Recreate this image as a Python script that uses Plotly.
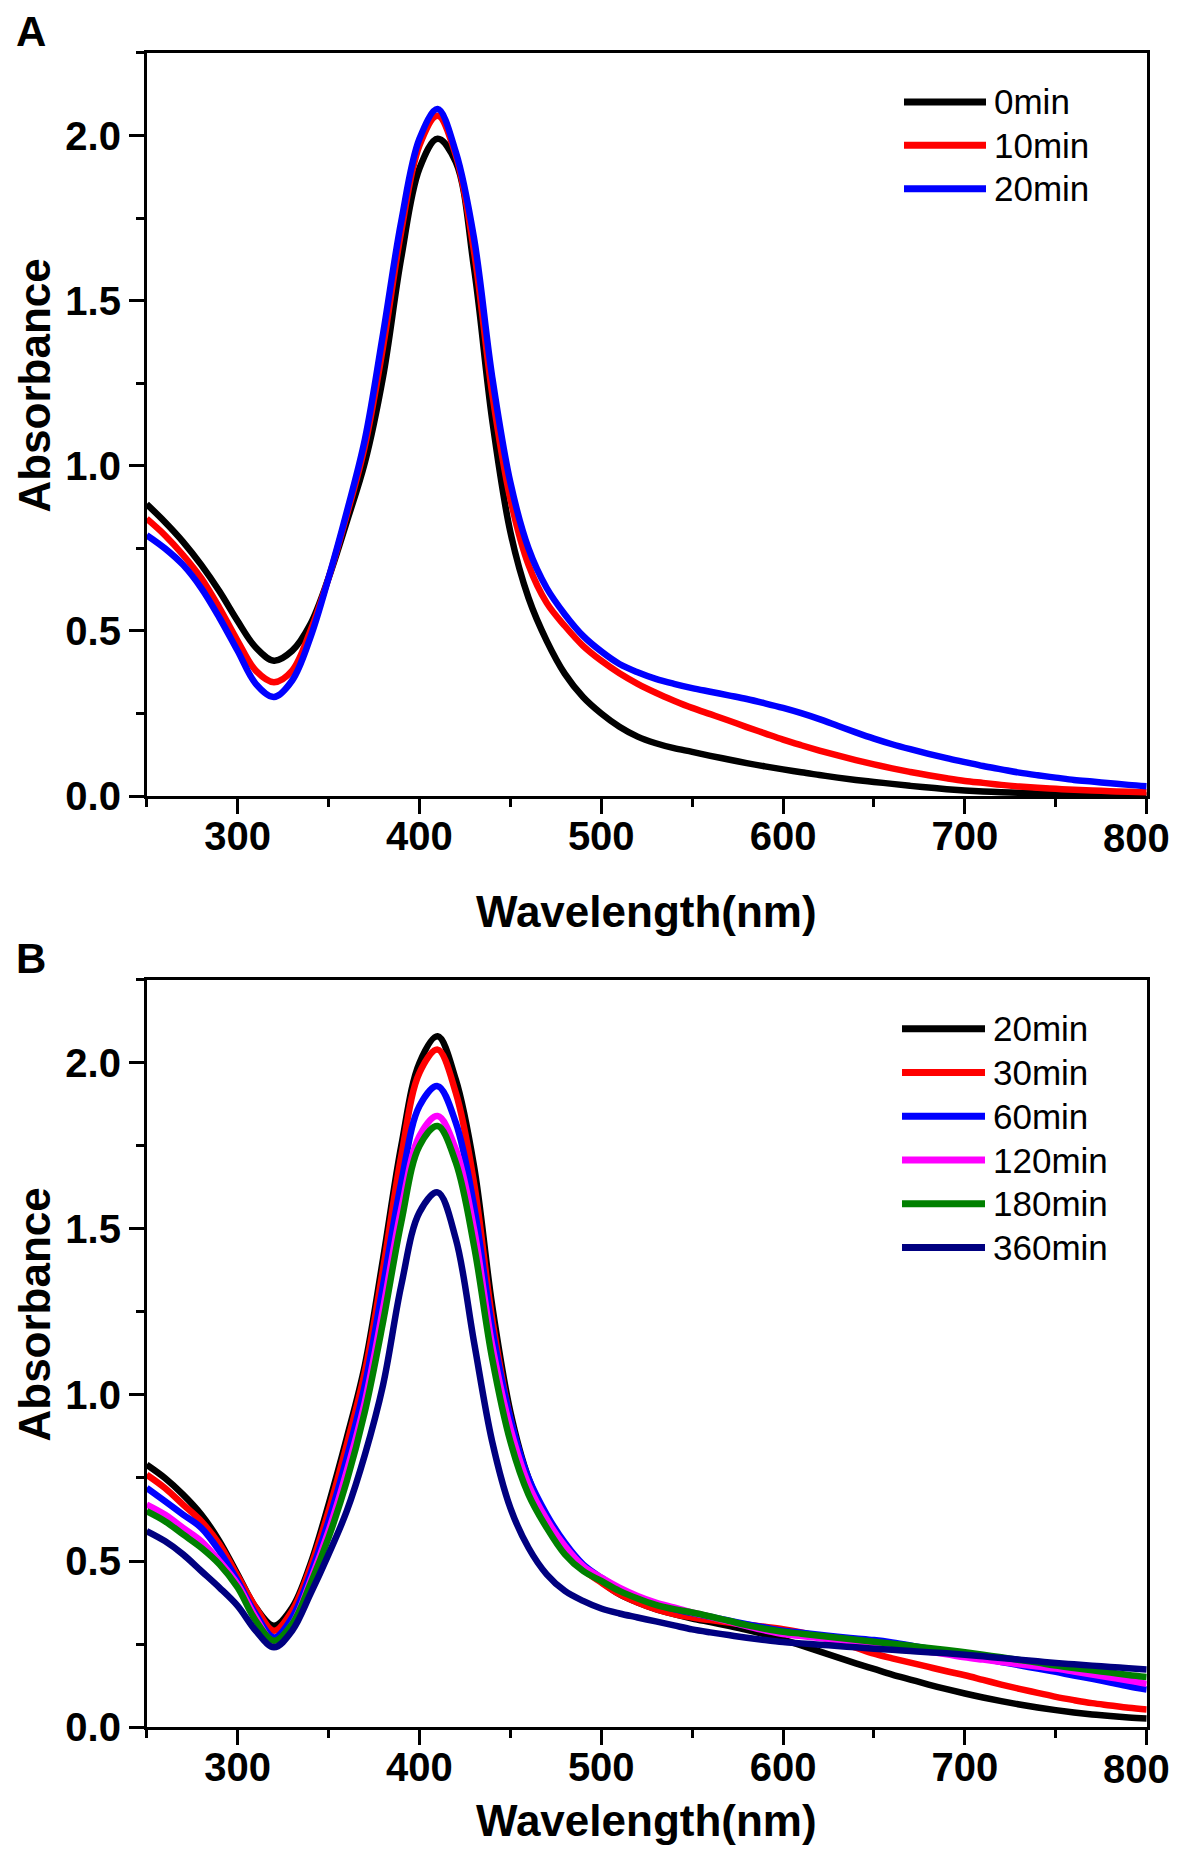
import plotly.graph_objects as go

# wavelength grid (nm) shared by all spectra
wl = list(range(250, 801, 10))
x_ticks = [300, 400, 500, 600, 700, 800]

# Panel A: 0 / 10 / 20 min
abs_0min = [0.884, 0.83, 0.77, 0.70, 0.62, 0.53, 0.45, 0.41, 0.44, 0.52,
            0.66, 0.83, 1.01, 1.27, 1.63, 1.90, 1.99, 1.92, 1.60, 1.14,
            0.80, 0.60, 0.47, 0.37, 0.30, 0.25, 0.21, 0.18, 0.16, 0.145,
            0.134, 0.122, 0.111, 0.100, 0.090, 0.081, 0.072, 0.064, 0.056, 0.049,
            0.043, 0.037, 0.031, 0.026, 0.021, 0.017, 0.014, 0.012, 0.010, 0.008,
            0.007, 0.006, 0.005, 0.004, 0.003, 0.002]
abs_10min = [0.84, 0.79, 0.73, 0.66, 0.57, 0.47, 0.38, 0.345, 0.38, 0.50,
             0.66, 0.85, 1.06, 1.36, 1.71, 1.97, 2.06, 1.94, 1.65, 1.22,
             0.90, 0.70, 0.585, 0.515, 0.455, 0.41, 0.372, 0.34, 0.313, 0.289,
             0.267, 0.248, 0.229, 0.209, 0.19, 0.171, 0.154, 0.138, 0.123, 0.109,
             0.096, 0.084, 0.073, 0.063, 0.054, 0.046, 0.040, 0.034, 0.029, 0.025,
             0.022, 0.019, 0.017, 0.015, 0.013, 0.012]
abs_20min = [0.79, 0.75, 0.70, 0.63, 0.54, 0.44, 0.34, 0.30, 0.35, 0.48,
             0.66, 0.86, 1.08, 1.40, 1.74, 1.99, 2.08, 1.95, 1.69, 1.27,
             0.95, 0.75, 0.63, 0.55, 0.485, 0.438, 0.40, 0.375, 0.355, 0.34,
             0.327, 0.316, 0.305, 0.294, 0.281, 0.267, 0.251, 0.233, 0.213, 0.193,
             0.174, 0.157, 0.142, 0.128, 0.115, 0.103, 0.091, 0.081, 0.071, 0.063,
             0.056, 0.049, 0.044, 0.039, 0.034, 0.030]
labels_a = ["0min", "10min", "20min"]
colors_a = ["#000000", "#FF0000", "#0000FF"]

# Panel B: 20 .. 360 min
abs_b_20 = [0.79, 0.75, 0.70, 0.64, 0.56, 0.46, 0.36, 0.305, 0.36, 0.49,
            0.67, 0.87, 1.09, 1.41, 1.75, 2.00, 2.08, 1.95, 1.69, 1.27,
            0.95, 0.75, 0.63, 0.55, 0.485, 0.438, 0.40, 0.375, 0.355, 0.34,
            0.327, 0.316, 0.305, 0.293, 0.279, 0.263, 0.246, 0.228, 0.21, 0.192,
            0.175, 0.158, 0.143, 0.128, 0.114, 0.101, 0.089, 0.078, 0.068, 0.059,
            0.051, 0.044, 0.038, 0.033, 0.029, 0.026]
abs_b_30 = [0.76, 0.72, 0.67, 0.62, 0.55, 0.455, 0.36, 0.29, 0.35, 0.48,
            0.65, 0.85, 1.07, 1.38, 1.72, 1.97, 2.04, 1.91, 1.64, 1.23,
            0.93, 0.74, 0.62, 0.54, 0.475, 0.435, 0.40, 0.375, 0.355, 0.34,
            0.33, 0.322, 0.315, 0.308, 0.302, 0.295, 0.285, 0.272, 0.256, 0.239,
            0.221, 0.207, 0.194, 0.181, 0.168, 0.156, 0.142, 0.128, 0.115, 0.103,
            0.091, 0.081, 0.072, 0.065, 0.058, 0.053]
abs_b_60 = [0.72, 0.68, 0.64, 0.60, 0.53, 0.44, 0.34, 0.27, 0.33, 0.46,
            0.62, 0.81, 1.03, 1.33, 1.64, 1.87, 1.93, 1.82, 1.57, 1.20,
            0.93, 0.75, 0.64, 0.555, 0.49, 0.45, 0.415, 0.39, 0.37, 0.355,
            0.343, 0.332, 0.321, 0.31, 0.30, 0.29, 0.284, 0.278, 0.272, 0.267,
            0.262, 0.255, 0.246, 0.236, 0.226, 0.215, 0.206, 0.196, 0.186, 0.176,
            0.166, 0.155, 0.145, 0.134, 0.123, 0.113]
abs_b_120 = [0.67, 0.64, 0.60, 0.56, 0.50, 0.43, 0.33, 0.255, 0.31, 0.44,
             0.59, 0.77, 0.98, 1.26, 1.56, 1.78, 1.84, 1.74, 1.50, 1.15,
             0.90, 0.73, 0.625, 0.545, 0.485, 0.45, 0.42, 0.395, 0.375, 0.36,
             0.345, 0.332, 0.318, 0.304, 0.291, 0.28, 0.274, 0.268, 0.262, 0.256,
             0.25, 0.243, 0.235, 0.227, 0.219, 0.21, 0.203, 0.196, 0.189, 0.182,
             0.176, 0.167, 0.158, 0.149, 0.14, 0.13]
abs_b_180 = [0.65, 0.62, 0.58, 0.54, 0.49, 0.42, 0.32, 0.26, 0.31, 0.43,
             0.57, 0.74, 0.95, 1.22, 1.52, 1.75, 1.81, 1.70, 1.45, 1.11,
             0.86, 0.70, 0.60, 0.52, 0.47, 0.44, 0.41, 0.387, 0.368, 0.355,
             0.345, 0.333, 0.32, 0.307, 0.296, 0.287, 0.281, 0.275, 0.269, 0.263,
             0.257, 0.251, 0.245, 0.238, 0.232, 0.225, 0.218, 0.21, 0.202, 0.194,
             0.185, 0.178, 0.171, 0.164, 0.157, 0.151]
abs_b_360 = [0.59, 0.56, 0.52, 0.47, 0.42, 0.365, 0.29, 0.24, 0.29, 0.40,
             0.52, 0.65, 0.82, 1.03, 1.33, 1.55, 1.61, 1.47, 1.16, 0.86,
             0.66, 0.54, 0.46, 0.41, 0.38, 0.357, 0.342, 0.33, 0.318, 0.306,
             0.294, 0.285, 0.277, 0.269, 0.262, 0.256, 0.252, 0.248, 0.244, 0.24,
             0.236, 0.233, 0.229, 0.225, 0.222, 0.218, 0.213, 0.208, 0.203, 0.198,
             0.193, 0.189, 0.185, 0.181, 0.177, 0.173]
labels_b = ["20min", "30min", "60min", "120min", "180min", "360min"]
colors_b = ["#000000", "#FF0000", "#0000FF", "#FF00FF", "#008000", "#000080"]

# The page keeps the 8px body margin and the photo comes out ~1% squeezed vertically,
# so window pixels are mapped back to figure pixels before becoming paper fractions.
FW, FH = 1165, 1861
X_OFF = 8
Y_OFF, Y_SCALE = 6, 0.9893
FONT = "Arial, Liberation Sans, sans-serif"


def px_x(x):
    return (x - X_OFF) / FW


def fig_y(y):
    return (y - Y_OFF) / Y_SCALE


def px_y(y):
    return 1 - fig_y(y) / FH


fig = go.Figure()

for ys, name, col in zip([abs_0min, abs_10min, abs_20min], labels_a, colors_a):
    fig.add_trace(go.Scatter(x=wl, y=ys, mode="lines", name=name, showlegend=False,
                             line=dict(color=col, width=6.5, shape="spline", smoothing=1.0),
                             xaxis="x", yaxis="y"))

for ys, name, col in zip([abs_b_20, abs_b_30, abs_b_60, abs_b_120, abs_b_180, abs_b_360], labels_b, colors_b):
    fig.add_trace(go.Scatter(x=wl, y=ys, mode="lines", name=name, showlegend=False,
                             line=dict(color=col, width=6.5, shape="spline", smoothing=1.0),
                             xaxis="x2", yaxis="y2"))

x_dom = [px_x(146.7), px_x(1146.7)]
axis_common = dict(
    showline=True, linecolor="black", linewidth=2.5, mirror=True,
    ticks="outside", ticklen=15, tickwidth=2.5, tickcolor="black",
    showgrid=False, zeroline=False,
    tickfont=dict(family=FONT, size=40, color="black", weight="bold"),
)
# the last label (800) sits at the very edge of the window, so it is drawn as an annotation
xaxis_common = dict(axis_common, range=[250, 800], tickmode="array", tickvals=x_ticks,
                    ticktext=[str(v) for v in x_ticks[:-1]] + [""], ticklabelstandoff=-12,
                    minor=dict(ticks="outside", ticklen=8, tickwidth=2.5, tickcolor="black",
                               tick0=250, dtick=50))
yaxis_common = dict(axis_common, range=[0, 2.25], tick0=0, dtick=0.5, tickformat=".1f",
                    minor=dict(ticks="outside", ticklen=8, tickwidth=2.5, tickcolor="black",
                               tick0=0, dtick=0.25))

fig.update_layout(
    width=FW, height=FH, autosize=False,
    margin=dict(l=0, r=0, t=0, b=0),
    paper_bgcolor="white", plot_bgcolor="white",
    showlegend=False,
    xaxis=dict(xaxis_common, domain=x_dom, anchor="y"),
    yaxis=dict(yaxis_common, domain=[px_y(795), px_y(51)], anchor="x"),
    xaxis2=dict(xaxis_common, domain=x_dom, anchor="y2"),
    yaxis2=dict(yaxis_common, domain=[px_y(1727), px_y(979)], anchor="x2"),
)

annotations = []
shapes = []


def add_text(text, x, y, size, bold=True, angle=0, xanchor="center", yanchor="middle"):
    annotations.append(dict(
        text=text, x=x, y=y, xref="paper", yref="paper",
        xanchor=xanchor, yanchor=yanchor, showarrow=False, textangle=angle,
        font=dict(family=FONT, size=size, color="black", weight="bold" if bold else "normal"),
    ))


# panel letters and axis titles (kept just inside the figure edges)
add_text("A", px_x(31), 1 - 24 / FH, 42)
add_text("B", px_x(31), px_y(958), 42)
add_text("Absorbance", 0.5 / FW, px_y(384), 44, angle=-90, xanchor="left")
add_text("Absorbance", 0.5 / FW, px_y(1314), 44, angle=-90, xanchor="left")
add_text("Wavelength(nm)", px_x(646.7), px_y(911), 44)
add_text("Wavelength(nm)", px_x(646.7), 0.5 / FH, 44, yanchor="bottom")
add_text(str(x_ticks[-1]), px_x(1172), px_y(837), 40, xanchor="right")
add_text(str(x_ticks[-1]), px_x(1172), px_y(1769), 40, xanchor="right")

# hand-placed legends (long line swatches, as in the original)
for i, (name, col) in enumerate(zip(labels_a, colors_a)):
    yy = 100 + i * 43.5
    shapes.append(dict(type="line", xref="paper", yref="paper",
                       x0=px_x(904), x1=px_x(986), y0=px_y(yy), y1=px_y(yy),
                       line=dict(color=col, width=7)))
    add_text(name, px_x(992), px_y(yy), 35, bold=False, xanchor="left")

for i, (name, col) in enumerate(zip(labels_b, colors_b)):
    yy = 1028 + i * 43.8
    shapes.append(dict(type="line", xref="paper", yref="paper",
                       x0=px_x(902), x1=px_x(985), y0=px_y(yy), y1=px_y(yy),
                       line=dict(color=col, width=7)))
    add_text(name, px_x(991), px_y(yy), 35, bold=False, xanchor="left")

fig.update_layout(annotations=annotations, shapes=shapes)

fig.write_html("out.html")
